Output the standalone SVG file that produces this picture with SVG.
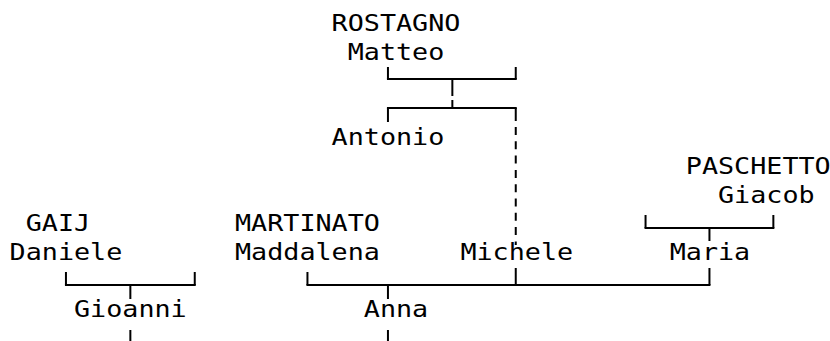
<svg xmlns="http://www.w3.org/2000/svg" width="830" height="341" viewBox="0 0 830 341">
<style>
text{font-family:"DejaVu Sans Mono","Liberation Mono",monospace;font-size:23px;fill:#000}
.c line{stroke:#000;stroke-width:2;fill:none}
.c .d{stroke-dasharray:8 6.3}
</style>
<rect width="830" height="341" fill="#fff"/>
<g class="c" id="connectors">
<line x1="387.95" y1="67" x2="387.95" y2="79"/>
<line x1="515.75" y1="67" x2="515.75" y2="79"/>
<line x1="386.95" y1="79" x2="516.75" y2="79"/>
<line x1="452.35" y1="79" x2="452.35" y2="96"/>
<line x1="452.35" y1="100" x2="452.35" y2="108"/>
<line x1="386.95" y1="108" x2="516.75" y2="108"/>
<line x1="387.95" y1="108" x2="387.95" y2="122"/>
<line x1="515.75" y1="108" x2="515.75" y2="121"/>
<line class="d" x1="515.75" y1="127" x2="515.75" y2="245"/>
<line x1="645.55" y1="215" x2="645.55" y2="228"/>
<line x1="773.35" y1="215" x2="773.35" y2="228"/>
<line x1="644.55" y1="228" x2="774.35" y2="228"/>
<line x1="709.45" y1="228" x2="709.45" y2="241"/>
<line x1="65.95" y1="272" x2="65.95" y2="285"/>
<line x1="194.75" y1="272" x2="194.75" y2="285"/>
<line x1="64.95" y1="285" x2="195.75" y2="285"/>
<line x1="130.35" y1="285" x2="130.35" y2="299"/>
<line x1="130.35" y1="330" x2="130.35" y2="341"/>
<line x1="307.45" y1="272" x2="307.45" y2="285"/>
<line x1="306.45" y1="285" x2="710.45" y2="285"/>
<line x1="515.75" y1="268" x2="515.75" y2="285"/>
<line x1="709.45" y1="268" x2="709.45" y2="285"/>
<line x1="387.95" y1="285" x2="387.95" y2="299"/>
<line x1="387.95" y1="330" x2="387.95" y2="341"/>
</g>
<g id="matteo"><text x="331.6" y="31" textLength="128.8" lengthAdjust="spacingAndGlyphs">ROSTAGNO</text><text x="347.7" y="59.6" textLength="96.6" lengthAdjust="spacingAndGlyphs">Matteo</text></g>
<g id="antonio"><text x="331.6" y="145.4" textLength="112.7" lengthAdjust="spacingAndGlyphs">Antonio</text></g>
<g id="giacob"><text x="685.8" y="174" textLength="144.9" lengthAdjust="spacingAndGlyphs">PASCHETTO</text><text x="718" y="202.6" textLength="96.6" lengthAdjust="spacingAndGlyphs">Giacob</text></g>
<g id="daniele"><text x="25.7" y="231.2" textLength="64.4" lengthAdjust="spacingAndGlyphs">GAIJ</text><text x="9.6" y="259.8" textLength="112.7" lengthAdjust="spacingAndGlyphs">Daniele</text></g>
<g id="maddalena"><text x="235" y="231.2" textLength="144.9" lengthAdjust="spacingAndGlyphs">MARTINATO</text><text x="235" y="259.8" textLength="144.9" lengthAdjust="spacingAndGlyphs">Maddalena</text></g>
<g id="michele"><text x="460.4" y="259.8" textLength="112.7" lengthAdjust="spacingAndGlyphs">Michele</text></g>
<g id="maria"><text x="669.7" y="259.8" textLength="80.5" lengthAdjust="spacingAndGlyphs">Maria</text></g>
<g id="gioanni"><text x="74" y="317" textLength="112.7" lengthAdjust="spacingAndGlyphs">Gioanni</text></g>
<g id="anna"><text x="363.8" y="317" textLength="64.4" lengthAdjust="spacingAndGlyphs">Anna</text></g>
</svg>
